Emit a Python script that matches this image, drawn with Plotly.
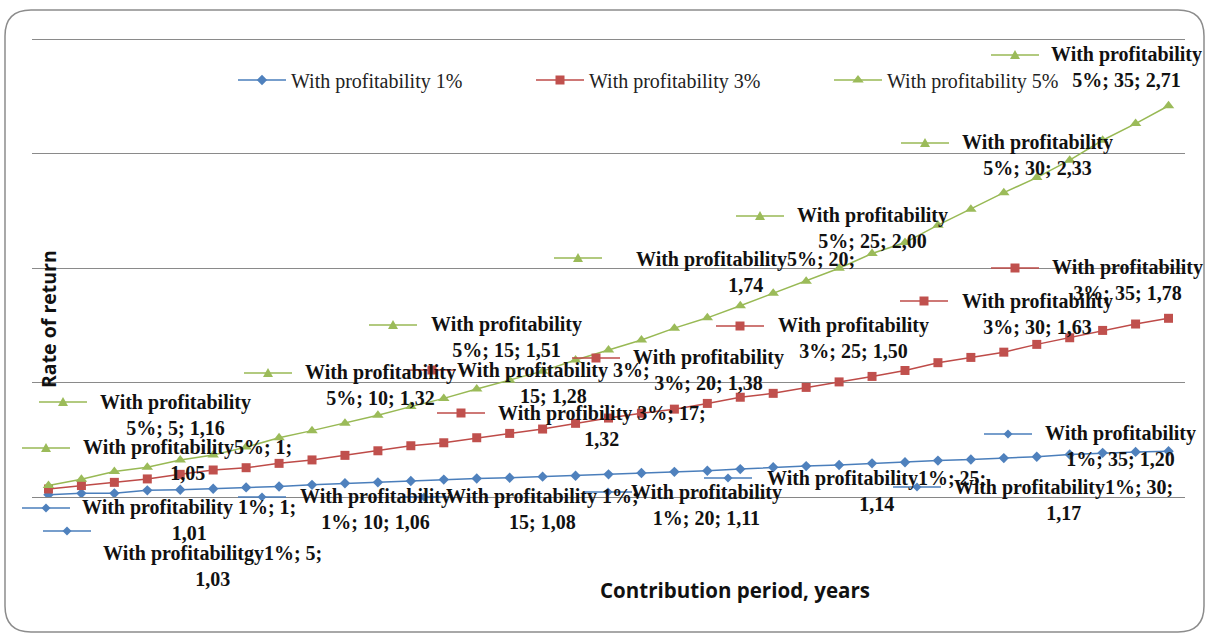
import plotly.graph_objects as go

# ---------------- data ----------------
years = list(range(1, 36))
series_names = ["With profitability 1%", "With profitability 3%", "With profitability 5%"]
series_pct = ["1%", "3%", "5%"]
rate_1 = [1.01, 1.016, 1.016, 1.029, 1.032, 1.036, 1.042, 1.046, 1.053, 1.06,
          1.064, 1.07, 1.076, 1.081, 1.084, 1.089, 1.093, 1.099, 1.105, 1.11,
          1.115, 1.122, 1.13, 1.135, 1.14, 1.147, 1.152, 1.159, 1.164, 1.17,
          1.176, 1.186, 1.193, 1.197, 1.20]
rate_3 = [1.035, 1.05, 1.064, 1.079, 1.099, 1.118, 1.128, 1.147, 1.162, 1.182,
          1.202, 1.224, 1.237, 1.259, 1.278, 1.297, 1.322, 1.345, 1.366, 1.384,
          1.409, 1.436, 1.453, 1.479, 1.503, 1.527, 1.553, 1.587, 1.61, 1.633,
          1.667, 1.696, 1.728, 1.756, 1.781]
rate_5 = [1.05, 1.078, 1.111, 1.13, 1.162, 1.184, 1.218, 1.259, 1.29, 1.322,
          1.357, 1.395, 1.431, 1.472, 1.51, 1.55, 1.599, 1.642, 1.686, 1.738,
          1.783, 1.836, 1.89, 1.943, 2.0, 2.064, 2.112, 2.188, 2.258, 2.33,
          2.396, 2.472, 2.559, 2.632, 2.71]
series_values = [rate_1, rate_3, rate_5]
y_grid = [1.0, 1.5, 2.0, 2.5, 3.0]
x_title = "Contribution period, years"
y_title = "Rate of return"

# label text templates (as written in the original)
TPL = {
    "A": "With profitability<br>{s}; {y}; {v}",
    "B": "With profitability{s}; {y};<br>{v}",
    "C": "With profitability {s};<br>{y}; {v}",
    "D": "With profitability {s}; {y};<br>{v}",
    "G": "With profitabilitgy{s}; {y};<br>{v}",
    "P": "With profibility {s}; {y};<br>{v}",
}

# ---------------- styling / placement ----------------
W, H = 1207, 635
PL, PR, PT, PB = 32, 1185, 38, 497          # plot area in px
Y_MAX = 3.006
colors = ["#4A7EBB", "#BE4B48", "#98B954"]
mcolors = ["#4F81BD", "#C0504D", "#9BBB59"]
symbols = ["diamond", "square", "triangle-up"]
msizes = [8, 9, 10]
key_paths = [
    "M0,4.5 L4.5,0 L0,-4.5 L-4.5,0 Z",
    "M-4.5,-4.5 L4.5,-4.5 L4.5,4.5 L-4.5,4.5 Z",
    "M-5,-4 L5,-4 L0,5 Z",
]

# (series index, year, template, text centre px, key centre px)
label_place = [
    (2, 35, "A", (1126, 67), (1015, 55)),
    (2, 30, "A", (1037, 155), (925, 143)),
    (2, 25, "A", (872, 228), (760, 216)),
    (2, 20, "B", (745, 272), (578, 258)),
    (2, 15, "A", (506, 337), (393, 325)),
    (2, 10, "A", (380, 385), (268, 373)),
    (2, 5, "A", (175, 415), (63, 402)),
    (2, 1, "B", (187, 460), (46, 448)),
    (1, 35, "A", (1127, 280), (1015, 268)),
    (1, 30, "A", (1037, 314), (924, 301)),
    (1, 25, "A", (853, 338), (740, 326)),
    (1, 20, "A", (708, 370), (596, 358)),
    (1, 17, "P", (602, 426), (461, 413)),
    (1, 15, "C", (553, 383), (432, 370)),
    (0, 35, "A", (1120, 446), (1008, 434)),
    (0, 30, "B", (1063, 500), (917, 487)),
    (0, 25, "B", (876, 491), (728, 478)),
    (0, 20, "A", (706, 505), (608, 492)),
    (0, 15, "C", (542, 509), (424, 497)),
    (0, 10, "A", (375, 509), (262, 497)),
    (0, 5, "G", (212, 566), (67, 531)),
    (0, 1, "D", (189, 520), (46, 508)),
]


def pp(x, y):
    return (x - PL) / (PR - PL), (PB - y) / (PB - PT)


def fmt(v):
    return f"{v:.2f}".replace(".", ",")


fig = go.Figure()
for i in range(3):
    fig.add_trace(go.Scatter(
        x=years, y=series_values[i], name=series_names[i], mode="lines+markers",
        line=dict(color=colors[i], width=1.5),
        marker=dict(symbol=symbols[i], size=msizes[i], color=mcolors[i],
                    line=dict(width=0)),
    ))

annotations = []
shapes = []
for si, yr, tpl, (tx, ty), (kx, ky) in label_place:
    v = series_values[si][years.index(yr)]
    text = TPL[tpl].format(s=series_pct[si], y=yr, v=fmt(v))
    ax, ay = pp(tx, ty)
    annotations.append(dict(
        x=ax, y=ay, xref="paper", yref="paper", text=text, showarrow=False,
        xanchor="center", yanchor="middle", align="center",
        font=dict(family="Liberation Serif", size=20, color="#111111", weight="bold"),
    ))
    kxp, kyp = pp(kx, ky)
    shapes.append(dict(
        type="line", xref="paper", yref="paper", xsizemode="pixel", xanchor=kxp,
        x0=-24, x1=24, y0=kyp, y1=kyp, line=dict(color=colors[si], width=1.5),
        layer="above",
    ))
    shapes.append(dict(
        type="path", xref="paper", yref="paper", xsizemode="pixel", ysizemode="pixel",
        xanchor=kxp, yanchor=kyp, path=key_paths[si],
        fillcolor=mcolors[si], line=dict(width=0), layer="above",
    ))

# axis titles
xt = pp(735, 590)
annotations.append(dict(x=xt[0], y=xt[1], xref="paper", yref="paper", text=x_title,
                        showarrow=False, xanchor="center", yanchor="middle",
                        font=dict(family="Open Sans", size=20.5, color="#111111", weight="bold")))
yt = pp(48, 319)
annotations.append(dict(x=yt[0], y=yt[1], xref="paper", yref="paper", text=y_title,
                        showarrow=False, xanchor="center", yanchor="middle", textangle=-90,
                        font=dict(family="Open Sans", size=19.5, color="#111111", weight="bold")))

# rounded chart border
bx0, by0, bx1, by1, r = 5, 10, 1204, 632, 26
pts = lambda x, y: "%.5f,%.5f" % pp(x, y)
border = ("M " + pts(bx0 + r, by0) + " L " + pts(bx1 - r, by0) +
          " Q " + pts(bx1, by0) + " " + pts(bx1, by0 + r) +
          " L " + pts(bx1, by1 - r) + " Q " + pts(bx1, by1) + " " + pts(bx1 - r, by1) +
          " L " + pts(bx0 + r, by1) + " Q " + pts(bx0, by1) + " " + pts(bx0, by1 - r) +
          " L " + pts(bx0, by0 + r) + " Q " + pts(bx0, by0) + " " + pts(bx0 + r, by0) + " Z")
shapes.append(dict(type="path", xref="paper", yref="paper", path=border,
                   line=dict(color="#8C8C8C", width=1.5), layer="below"))

lx, ly = pp(233, 80)
fig.update_layout(
    width=W, height=H,
    margin=dict(l=PL, r=W - PR, t=PT, b=H - PB),
    paper_bgcolor="white", plot_bgcolor="white",
    showlegend=True,
    legend=dict(orientation="h", x=lx, y=ly, xanchor="left", yanchor="middle",
                font=dict(family="Liberation Serif", size=20, color="#222222"),
                entrywidth=235, entrywidthmode="pixels", itemwidth=48,
                bgcolor="rgba(0,0,0,0)", traceorder="normal"),
    xaxis=dict(range=[0.5, 35.5], showgrid=False, showticklabels=False, ticks="",
               showline=True, linecolor="#868686", linewidth=1, zeroline=False, fixedrange=True),
    yaxis=dict(range=[1.0, Y_MAX], tickvals=y_grid, showgrid=True, gridcolor="#8A8A8A",
               gridwidth=1, showticklabels=False, ticks="", zeroline=False,
               showline=False, fixedrange=True),
    annotations=annotations, shapes=shapes,
)

fig.write_html("out.html", config={"displayModeBar": False},
               post_script="document.body.style.margin='0';")
